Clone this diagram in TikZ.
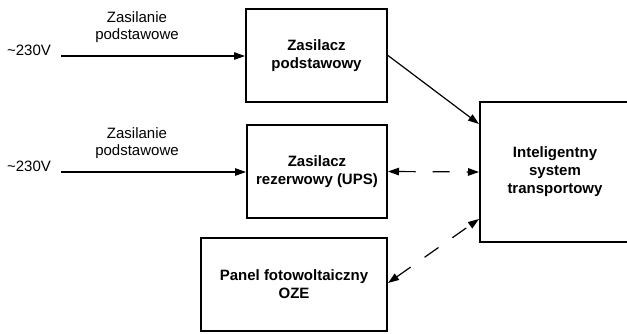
\documentclass[tikz,border=0pt]{standalone}
\usepackage{fontspec}
\setmainfont{Liberation Sans}
\usetikzlibrary{arrows.meta}
\begin{document}
\begin{tikzpicture}[x=1pt,y=-1pt,
  blk/.style={draw=black,line width=2pt,minimum height=93pt,align=center,
    font=\fontsize{15}{18}\selectfont\bfseries,inner sep=0pt},
  lbl/.style={align=center,font=\fontsize{15}{17}\selectfont,inner sep=0pt},
  conn/.style={line width=1.2pt,-{Triangle[length=11pt,width=7.5pt]}},
  dconn/.style={line width=1.2pt,{Triangle[length=11pt,width=7.5pt]}-{Triangle[length=11pt,width=7.5pt]},dash pattern=on 17pt off 17pt}]
\useasboundingbox (0,0) rectangle (627,333);
\node[blk,minimum width=141pt] (b1) at (316.5,55.5) {Zasilacz\\podstawowy};
\node[blk,minimum width=140pt] (b2) at (317,171.5) {Zasilacz\\rezerwowy (UPS)};
\node[blk,minimum width=186pt] (b3) at (294,284.5) {Panel fotowoltaiczny\\OZE};
\node[blk,minimum width=150pt,minimum height=140pt] (b4) at (555,172) {Inteligentny\\system\\transportowy};
\node[lbl] (v1) at (29,50) {\textasciitilde 230V};
\node[lbl] (v2) at (29,166.5) {\textasciitilde 230V};
\node[lbl] (z1) at (137,27) {Zasilanie\\podstawowe};
\node[lbl] (z2) at (137,143) {Zasilanie\\podstawowe};
\coordinate (s1) at (61,56);
\coordinate (s2) at (61,172);
\draw[conn] (s1) -- (b1.west |- s1);
\draw[conn] (s2) -- (b2.west |- s2);
\draw[conn] (b1.east) -- (b4.west |- 0,124);
\draw[dconn] (b2.east) -- (b4.west);
\draw[dconn] (b3.east |- 0,283) -- (b4.west |- 0,219);
\end{tikzpicture}
\end{document}
